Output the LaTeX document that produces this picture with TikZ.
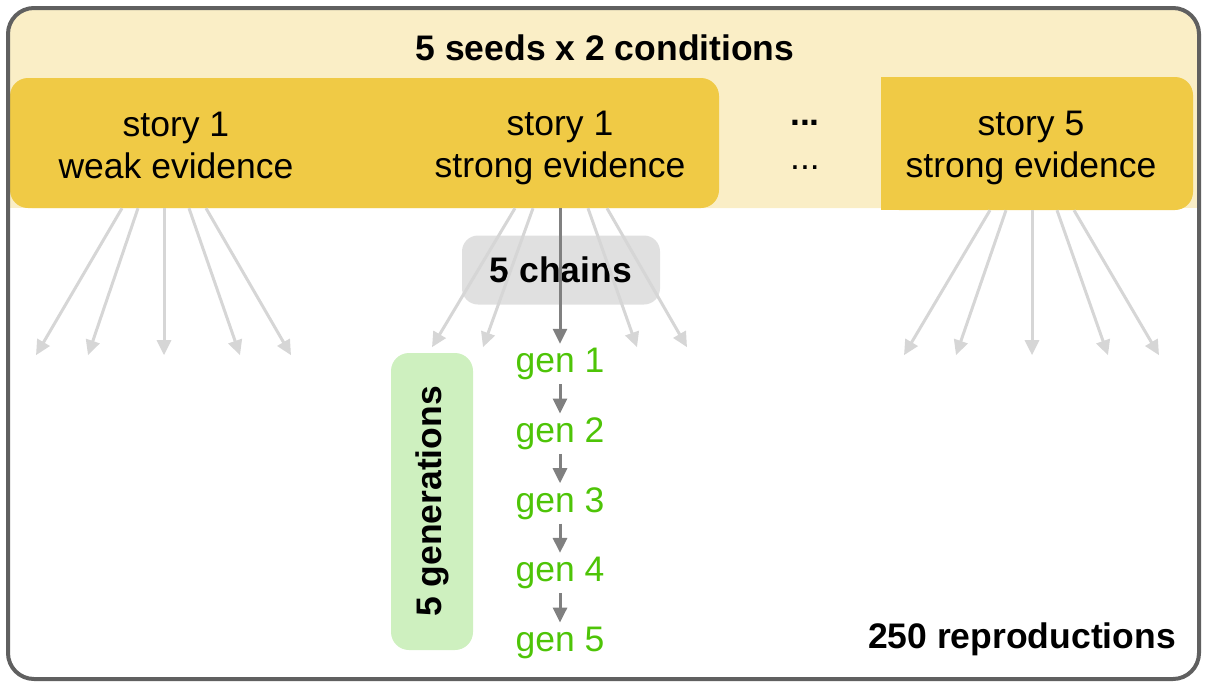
\documentclass[tikz,border=0pt]{standalone}
\usepackage{fontspec}
\setmainfont{Liberation Sans}
\usetikzlibrary{arrows.meta, positioning}

\definecolor{framegray}{HTML}{606060}
\definecolor{bandfill}{HTML}{FAEEC6}
\definecolor{storyfill}{HTML}{F0CA45}
\definecolor{chaingray}{HTML}{E0E0E0}
\definecolor{gengreen}{HTML}{4EC407}
\definecolor{genfill}{HTML}{CEF0BF}
\definecolor{fangray}{HTML}{D6D6D6}
\definecolor{chaindark}{HTML}{808080}

\begin{document}
\begin{tikzpicture}[
  x=1pt, y=-1pt,
  font=\fontsize{35.5}{42}\selectfont,
  node distance=29.3pt,
  boldtext/.style={font=\fontsize{35.5}{42}\selectfont\bfseries},
  storybox/.style={rectangle, align=center, minimum height=120pt, inner sep=0pt},
  chainsbox/.style={rectangle, rounded corners=16pt, fill=chaingray, minimum width=198pt, minimum height=69pt, boldtext},
  genlabel/.style={text=gengreen, inner sep=2pt, minimum height=40pt},
  genbox/.style={rectangle, rounded corners=18pt, fill=genfill, minimum width=297pt, minimum height=82pt, boldtext},
  fanarrow/.style={-{Triangle[length=15pt, width=14pt]}, line width=3pt, draw=fangray},
  chainarrow/.style={-{Triangle[length=15pt, width=14pt]}, line width=3pt, draw=chaindark}
]
\useasboundingbox (0,0) rectangle (1207,686);

% background band and story boxes
\fill[bandfill, rounded corners=22pt] (10,10) rectangle (1197,208);
\fill[bandfill] (10,120) rectangle (1197,208);
\fill[storyfill, rounded corners=18pt] (10,78) rectangle (719,208);
\fill[storyfill, rounded corners=18pt] (881,77) rectangle (1193,210);
\fill[storyfill] (881,77) rectangle (920,210);

\node[boldtext] (title) at (605,48) {5 seeds x 2 conditions};

\node[storybox, minimum height=126pt] (weak) at (176,145) {story 1\\weak evidence};
\node[storybox] (strong) at (560,148) {story 1\\strong evidence};
\node[storybox, minimum height=124pt] (story5) at (1031,148) {story 5\\strong evidence};

\node (dotsbold) at (805,123) {\bfseries ...};
\node (dotsplain) at (805,168) {...};

\node[chainsbox] (chains) at (561,270) {5 chains};

% fans of chains
\foreach \a/\b in {-42/-128, -26/-76, 0/0, 25/76, 42/127}{
  \draw[fanarrow] ([xshift=\a pt-12pt]weak.south) -- ++({\b-(\a)},147);
  \draw[fanarrow] ([xshift=\a pt+1pt]story5.south) -- ++({\b-(\a)},145);
}
\foreach \a/\b in {-45/-128, -27/-77, 28/77, 47/127}
  \draw[fanarrow] ([xshift=\a pt]strong.south) -- ++({\b-(\a)},139);

% one chain
\node[genlabel] (gen1) at (560,364) {gen 1};
\node[genlabel, below=of gen1] (gen2) {gen 2};
\node[genlabel, below=of gen2] (gen3) {gen 3};
\node[genlabel, below=of gen3] (gen4) {gen 4};
\node[genlabel, below=of gen4] (gen5) {gen 5};

\draw[chainarrow] (strong) -- (gen1);
\foreach \i/\j in {1/2, 2/3, 3/4, 4/5}
  \draw[chainarrow] (gen\i) -- (gen\j);

\node[genbox, rotate=90] (gens) at (432,501.5) {5 generations};

\node[boldtext] (total) at (1022,639) {250 reproductions};

% frame
\draw[framegray, line width=4pt, rounded corners=26pt] (8,8) rectangle (1199,679);

\end{tikzpicture}
\end{document}
